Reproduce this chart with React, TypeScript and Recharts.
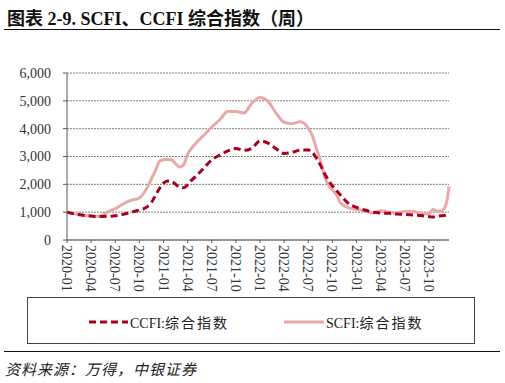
import { LineChart, Line, XAxis, YAxis, CartesianGrid } from "recharts";

// months since 2020-01 (weekly readings thinned out)
const months = [0, 1, 2, 3, 4, 5, 6, 7, 8, 9, 10, 10.5, 11, 11.5, 12, 12.5, 13, 13.5, 14, 14.5, 15, 15.5, 16, 17, 18, 19, 20, 21, 22, 23, 24, 25, 26, 27, 28, 29, 30, 30.5, 31, 31.5, 32, 32.5, 33, 33.5, 34, 35, 36, 37, 38, 39, 40, 41, 42, 43, 44, 45, 45.5, 46, 46.5, 47, 47.3, 47.5];
const scfi = [1000, 940, 890, 860, 850, 1000, 1130, 1300, 1430, 1510, 1900, 2200, 2500, 2830, 2880, 2890, 2880, 2740, 2620, 2700, 3080, 3300, 3470, 3760, 4060, 4320, 4620, 4620, 4560, 4920, 5120, 4980, 4560, 4230, 4180, 4250, 4020, 3750, 3300, 2870, 2300, 1980, 1800, 1630, 1330, 1160, 1100, 1050, 970, 1050, 1000, 970, 1020, 1030, 950, 940, 1100, 1040, 1020, 1180, 1500, 1920];
const ccfi = [1000, 930, 890, 860, 840, 850, 870, 920, 1000, 1080, 1200, 1350, 1600, 1850, 2040, 2120, 2110, 2000, 1900, 1880, 1980, 2150, 2280, 2580, 2880, 3050, 3200, 3290, 3220, 3300, 3560, 3480, 3280, 3110, 3150, 3230, 3230, 3150, 2950, 2700, 2400, 2150, 1950, 1780, 1620, 1310, 1170, 1080, 1000, 970, 960, 930, 920, 900, 880, 840, 830, 850, 870, 890, 930, 980];

const tickMonths = [0, 3, 6, 9, 12, 15, 18, 21, 24, 27, 30, 33, 36, 39, 42, 45];
const tickLabels = ["2020-01", "2020-04", "2020-07", "2020-10", "2021-01", "2021-04", "2021-07", "2021-10", "2022-01", "2022-04", "2022-07", "2022-10", "2023-01", "2023-04", "2023-07", "2023-10"];
const yTicks = [0, 1000, 2000, 3000, 4000, 5000, 6000];

const data = months.map((m, i) => ({ m, scfi: scfi[i], ccfi: ccfi[i] }));

const SERIF = '"Liberation Serif", "Times New Roman", "Noto Sans CJK SC", serif';
const CCFI_COLOR = "#a8001e";
const SCFI_COLOR = "#e8a9a7";

function DateTick({ x, y, payload }: any) {
  const i = tickMonths.indexOf(payload.value);
  return (
    <g transform={`translate(${x},${y})`}>
      <text transform="rotate(90)" x={0} y={0} dy="0.35em" textAnchor="start" fill="#333" fontSize={14} fontFamily={SERIF}>
        {tickLabels[i]}
      </text>
    </g>
  );
}

export default function App() {
  return (
    <div style={{ position: "absolute", left: 0, top: 0, width: 505, height: 383, background: "#fff", fontFamily: SERIF }}>
      <div style={{ position: "absolute", left: 7, top: 4, fontSize: 18, fontWeight: "bold", color: "#111", whiteSpace: "nowrap" }}>
        图表 2-9. SCFI、CCFI 综合指数（周）
      </div>
      <div style={{ position: "absolute", left: 4, top: 29, width: 496, height: 0, borderTop: "1.5px solid #111" }} />

      <div style={{ position: "absolute", left: 0, top: 0 }}>
        <LineChart width={505} height={300} data={data} margin={{ top: 73, right: 56, left: 7, bottom: 0 }}>
          <CartesianGrid vertical={false} stroke="#7f7f7f" strokeDasharray="2 1" />
          <XAxis
            dataKey="m"
            type="number"
            domain={[0, 47.5]}
            ticks={tickMonths}
            interval={0}
            height={60}
            tick={<DateTick />}
            tickSize={3}
            tickMargin={2}
            axisLine={{ stroke: "#595959" }}
            tickLine={{ stroke: "#595959" }}
          />
          <YAxis
            type="number"
            domain={[0, 6000]}
            ticks={yTicks}
            width={60}
            tickSize={4}
            tickMargin={12}
            tickFormatter={(v: number) => v.toLocaleString("en-US")}
            tick={{ fill: "#333", fontSize: 14, fontFamily: SERIF }}
            axisLine={{ stroke: "#595959" }}
            tickLine={{ stroke: "#595959" }}
          />
          <Line type="monotone" dataKey="scfi" stroke={SCFI_COLOR} strokeWidth={3} dot={false} isAnimationActive={false} />
          <Line type="monotone" dataKey="ccfi" stroke={CCFI_COLOR} strokeWidth={3} strokeDasharray="7 4" dot={false} isAnimationActive={false} />
        </LineChart>
      </div>

      <div style={{ position: "absolute", left: 27, top: 297, width: 446, height: 45, border: "1px solid #444" }}>
        <svg width={446} height={45} style={{ position: "absolute", left: 0, top: 0 }}>
          <line x1={61} x2={100} y1={24} y2={24} stroke={CCFI_COLOR} strokeWidth={3} strokeDasharray="7 4" />
          <line x1={256} x2={296} y1={24} y2={24} stroke={SCFI_COLOR} strokeWidth={3} />
        </svg>
        <div style={{ position: "absolute", left: 102, top: 14, fontSize: 14, color: "#222", whiteSpace: "nowrap" }}>
          CCFI:<span style={{ letterSpacing: 2 }}>综合指数</span>
        </div>
        <div style={{ position: "absolute", left: 298, top: 14, fontSize: 14, color: "#222", whiteSpace: "nowrap" }}>
          SCFI:<span style={{ letterSpacing: 2 }}>综合指数</span>
        </div>
      </div>

      <div style={{ position: "absolute", left: 4, top: 351, width: 496, height: 0, borderTop: "1.5px solid #111" }} />
      <div style={{ position: "absolute", left: 5, top: 358, fontSize: 15, fontStyle: "italic", color: "#222", letterSpacing: 1, whiteSpace: "nowrap" }}>
        资料来源：万得，中银证券
      </div>
    </div>
  );
}
